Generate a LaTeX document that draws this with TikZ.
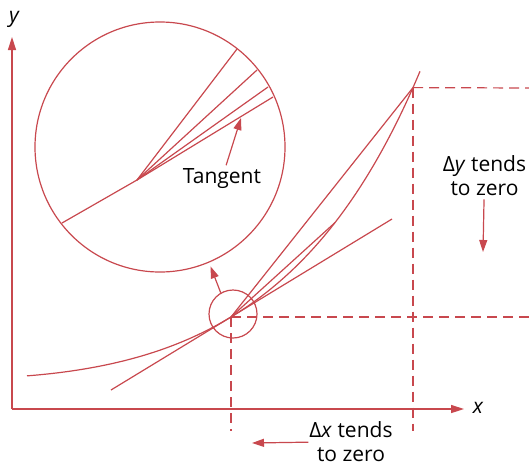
\documentclass[tikz,border=0pt]{standalone}
\usepackage{fontspec}
\setmainfont{Open Sans}
\usetikzlibrary{arrows.meta,positioning}
\definecolor{curvered}{RGB}{200,72,78}
\tikzset{line/.style = {draw=curvered, line width=1.2pt},
         axis/.style = {draw=curvered, line width=1.5pt, -{Triangle[length=13pt,width=8pt]}},
         guide/.style = {draw=curvered, line width=1.2pt, dash pattern=on 10pt off 6pt},
         pointer/.style = {draw=curvered, line width=1.2pt, -{Triangle[length=12pt,width=8pt]}},
         ring/.style = {draw=curvered, line width=1.2pt, circle, inner sep=0pt},
         label/.style = {font=\fontsize{21}{23.3}\selectfont, align=center, inner sep=0pt},
}

\begin{document}
\begin{tikzpicture}[x=1pt, y=-1pt]
  \useasboundingbox (0,0) rectangle (529,461);

  % axes
  \coordinate (O) at (12,409);
  \coordinate (ytop) at (12,37);
  \coordinate (xend) at (464,409);
  \draw[axis] (O) -- (ytop);
  \draw[axis] (O) -- (xend);
  \node[label, font=\fontsize{21}{24}\selectfont\itshape] (ylab) at (14,19) {y};
  \node[label, font=\fontsize{21}{24}\selectfont\itshape] (xlab) at (478,408) {x};

  % curve, chords and tangent
  \coordinate (P) at (231,317);
  \coordinate (R) at (335,222.6);
  \coordinate (Q) at (413,87.6);
  \coordinate (T1) at (111,390);
  \coordinate (T2) at (392,219);
  \draw[line] plot[domain=27:420, samples=90, smooth]
    (\x, {317-84.7*(exp(0.0072*(\x-231))-1)-0.00015*min(\x-231,0)*min(\x-231,0)});
  \draw[line] (P) -- (Q);
  \draw[line] (P) -- (R);
  \draw[line] (T1) -- (T2);

  % dashed guides
  \coordinate (Pr) at (529,317);
  \coordinate (Pd) at (231,431);
  \coordinate (Qr) at (529,88);
  \coordinate (Qd) at (413,431);
  \draw[guide] (P) -- (Pr);
  \draw[guide] (P) -- (Pd);
  \draw[guide] (Q) -- (Qr);
  \draw[guide] (Q) -- (Qd);

  % magnifier
  \node[ring, minimum size=48pt] (lens) at (233,314) {};
  \node[ring, minimum size=250pt] (zoomc) at (160,147) {};
  \draw[pointer, shorten >=4pt] (lens.120) -- (zoomc.-67);

  \coordinate (F) at (137,180);
  \coordinate (F0) at (62,223);
  \coordinate (F1) at (237,49);
  \coordinate (F2) at (257,70);
  \coordinate (F3) at (268,87);
  \coordinate (F4) at (273,97);
  \draw[line] (F0) -- (F) -- (F4);
  \draw[line] (F) -- (F1);
  \draw[line] (F) -- (F2);
  \draw[line] (F) -- (F3);

  \node[label, anchor=base] (tanlab) at (222,183.3) {Tangent};
  \coordinate (tantip) at (241,118);
  \draw[pointer, shorten <=3pt] (tanlab) -- (tantip);

  % labels for the limits
  \node[label] (dylab) at (484.5,175.5) {Δ\textit{y} tends\\to zero};
  \coordinate (dytip) at (483,252);
  \draw[pointer, shorten <=4pt] (dylab) -- (dytip);

  \node[label] (dxlab) at (351,441.5) {Δ\textit{x} tends\\to zero};
  \coordinate (dxtip) at (252,443);
  \draw[pointer, shorten <=1pt] (dxlab) -- (dxtip);
\end{tikzpicture}
\end{document}
